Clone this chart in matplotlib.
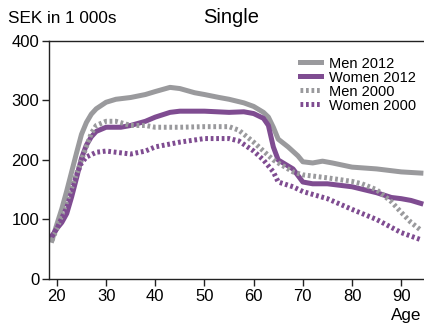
import matplotlib
matplotlib.use("Agg")
import matplotlib.pyplot as plt

plt.rcParams['font.family'] = ['Liberation Sans', 'DejaVu Sans']

ages_m12 = [19, 20, 21, 22, 23, 24, 25, 26, 27, 28, 30, 32, 35, 38, 40, 43, 45, 48, 50, 53, 55, 58, 60, 62, 63, 64, 65, 67, 69, 70, 72, 74, 76, 80, 85, 90, 94]
men_2012 = [65, 92, 118, 148, 180, 212, 243, 263, 277, 286, 297, 302, 305, 310, 315, 322, 320, 313, 310, 305, 302, 296, 290, 280, 272, 255, 235, 222, 207, 197, 195, 198, 195, 188, 185, 180, 178]

ages_w12 = [19, 20, 21, 22, 23, 24, 25, 26, 27, 28, 30, 33, 35, 38, 40, 43, 45, 50, 55, 58, 60, 62, 63, 64, 65, 67, 68, 70, 72, 75, 80, 85, 88, 90, 92, 94]
women_2012 = [72, 85, 95, 110, 138, 170, 203, 225, 239, 248, 255, 255, 258, 265, 272, 280, 282, 282, 280, 281, 278, 270, 258, 222, 200, 190, 185, 163, 160, 160, 155, 145, 137, 135, 132, 127]

ages_m00 = [19, 20, 22, 25, 27, 28, 30, 32, 35, 38, 40, 45, 50, 55, 57, 60, 62, 64, 66, 68, 70, 75, 80, 82, 85, 88, 90, 92, 94]
men_2000 = [65, 85, 130, 200, 245, 258, 265, 265, 258, 258, 255, 255, 256, 256, 250, 230, 215, 200, 190, 180, 175, 170, 164, 160, 150, 130, 112, 95, 82]

ages_w00 = [19, 20, 22, 24, 25, 26, 28, 30, 33, 35, 38, 40, 45, 50, 55, 57, 60, 62, 64, 65, 68, 70, 75, 80, 85, 90, 94]
women_2000 = [72, 85, 120, 175, 195, 205, 213, 215, 212, 210, 215, 222, 230, 236, 236, 232, 215, 200, 180, 163, 155, 147, 135, 117, 100, 78, 66]

x_ticks = [20, 30, 40, 50, 60, 70, 80, 90]
y_ticks = [0, 100, 200, 300, 400]

grey = '#9a9a9d'
purple = '#7f4c91'

fig = plt.figure(figsize=(4.24, 3.25), dpi=100)
ax = fig.add_axes([0.1156, 0.1415, 0.884, 0.7325])

lw = 3.6
dots = (0, (0.55, 0.55))
ax.plot(ages_m12, men_2012, color=grey, lw=lw, label='Men 2012')
ax.plot(ages_w12, women_2012, color=purple, lw=lw, label='Women 2012')
ax.plot(ages_m00, men_2000, color=grey, lw=lw, linestyle=dots, label='Men 2000')
ax.plot(ages_w00, women_2000, color=purple, lw=lw, linestyle=dots, label='Women 2000')

ax.set_xlim(18.4, 94.6)
ax.set_ylim(0, 400)
ax.set_xticks(x_ticks)
ax.set_yticks(y_ticks)
ax.tick_params(axis='both', labelsize=12, length=5, width=1, color='#222222', pad=2)
ax.spines['right'].set_visible(False)
for s in ['left', 'bottom', 'top']:
    ax.spines[s].set_linewidth(1)
    ax.spines[s].set_color('#222222')

leg = ax.legend(loc='upper right', bbox_to_anchor=(1.0, 0.965), frameon=False, fontsize=10.5,
                handlelength=1.4, handletextpad=0.6, labelspacing=0.0, borderaxespad=0.1)

fig.text(0.019, 0.943, 'SEK in 1 000s', fontsize=12.3, va='center', ha='left')
fig.text(0.545, 0.946, 'Single', fontsize=14.5, va='center', ha='center')
fig.text(0.995, 0.03, 'Age', fontsize=12.3, va='center', ha='right')

fig.savefig('out.png', dpi=100)
